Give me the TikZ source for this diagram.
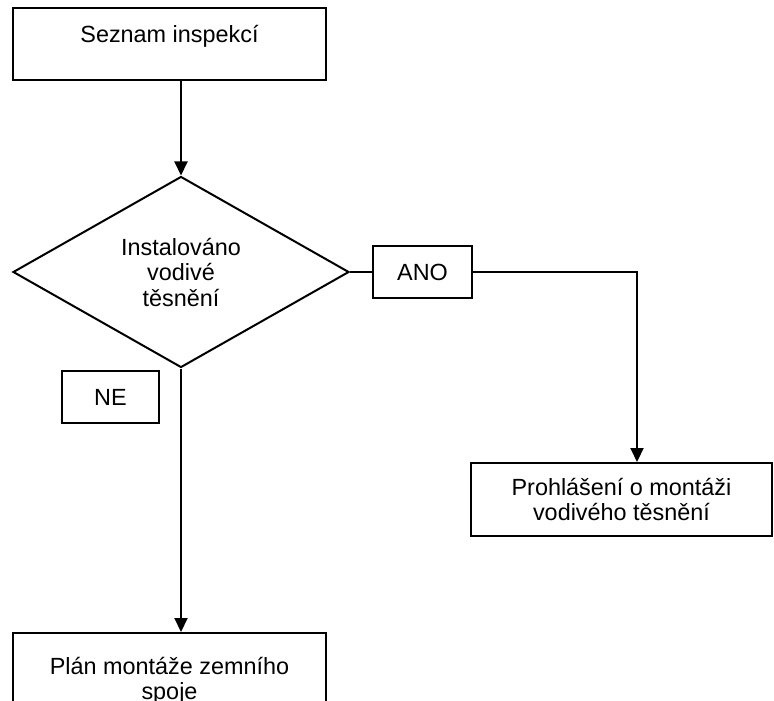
\documentclass[tikz,border=0pt]{standalone}
\usepackage{fontspec}
\setmainfont{Liberation Sans}
\usepackage{tikz}
\usetikzlibrary{arrows.meta}
\usetikzlibrary{shapes.geometric}

\begin{document}
\begin{tikzpicture}[x=0.5pt,y=-0.5pt,line width=1pt,
  font=\fontsize{11.7pt}{12.75pt}\selectfont,
  box/.style={draw,rectangle,align=center},
  link/.style={-{Triangle[width=6.5pt,length=7pt]}}]
\useasboundingbox (0,0) rectangle (774,700);
\node[box,anchor=north,minimum width=156.5pt,inner sep=0pt,text height=17.25pt,text depth=18.75pt] (seznam) at (169.5,7) {Seznam inspekcí};
\node[draw,diamond,minimum width=168pt,minimum height=95.5pt,inner sep=0pt,align=center] (dia) at (181,272) {Instalováno\\vodivé\\těsnění};
\node[box,minimum width=49.5pt,minimum height=26pt] (ano) at (422.5,272) {ANO};
\node[box,minimum width=48.5pt,minimum height=26pt] (ne) at (110.5,397) {NE};
\node[box,minimum width=150.5pt,minimum height=36.5pt] (prohl) at (621.5,499.5) {Prohlášení o montáži\\vodivého těsnění};
\node[box,anchor=north,minimum width=156.5pt,inner ysep=12pt] (plan) at (169.5,632) {Plán montáže zemního\\spoje};
\coordinate (anoturn) at (637,272);
\draw[link] (dia.north |- seznam.south) -- (dia.north);
\draw (dia.east) -- (ano.west);
\draw[link] (ano.east) -- (anoturn) -- (anoturn |- prohl.north);
\draw[link] (dia.south) -- (dia.south |- plan.north);
\end{tikzpicture}
\end{document}
